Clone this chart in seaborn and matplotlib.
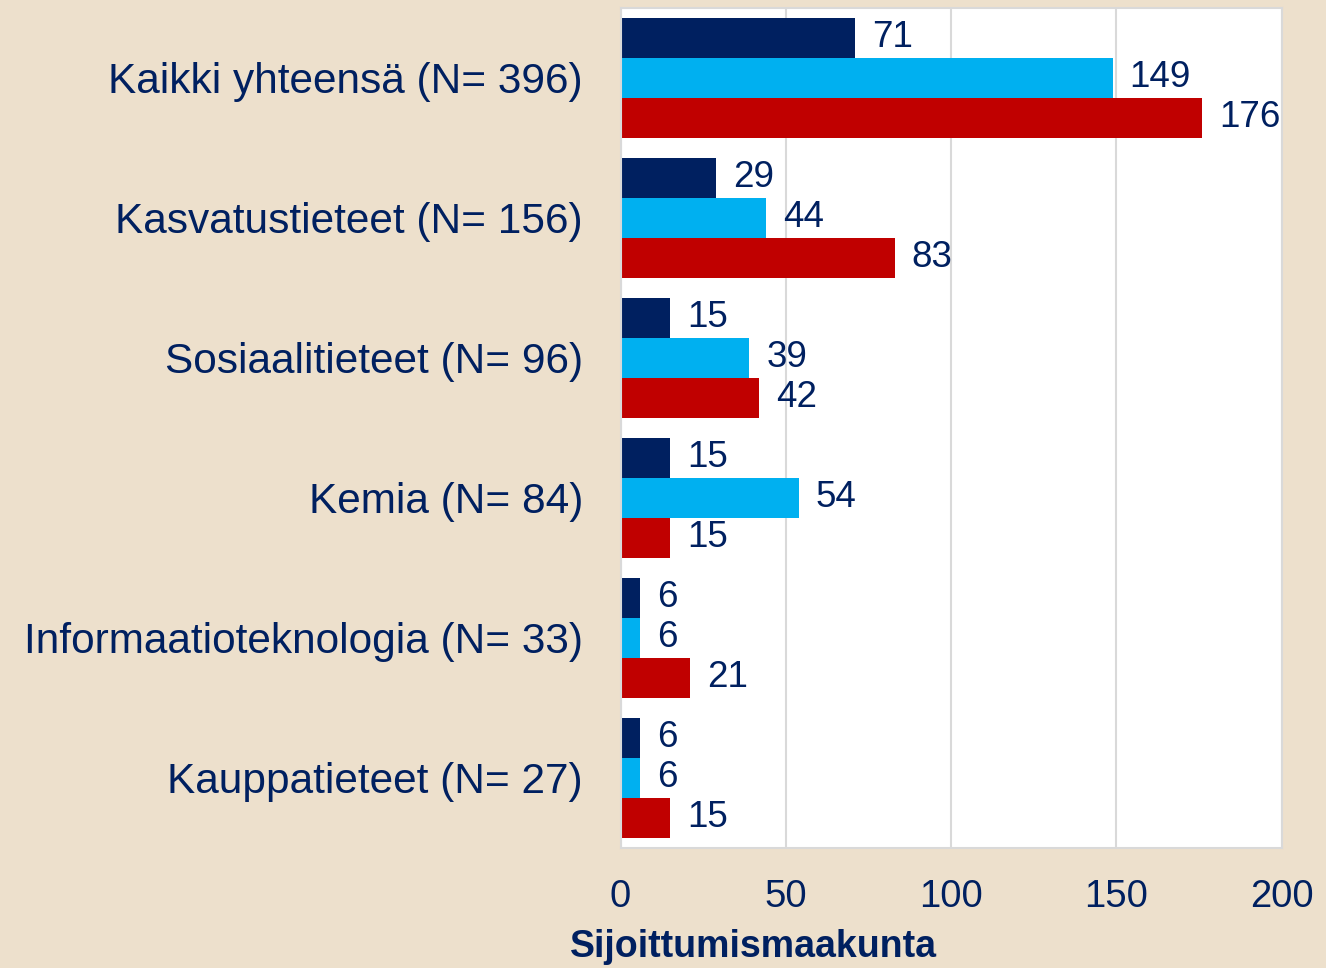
import pandas as pd
import matplotlib.pyplot as plt
import seaborn as sns

# Data
categories = ['Kaikki yhteensä (N= 396)', 'Kasvatustieteet (N= 156)', 'Sosiaalitieteet (N= 96)',
              'Kemia (N= 84)', 'Informaatioteknologia (N= 33)', 'Kauppatieteet (N= 27)']
series_names = ['Sarja 1', 'Sarja 2', 'Sarja 3']
values_1 = [71, 29, 15, 15, 6, 6]
values_2 = [149, 44, 39, 54, 6, 6]
values_3 = [176, 83, 42, 15, 21, 15]
x_ticks = [0, 50, 100, 150, 200]

colors = ['#002060', '#00B0F0', '#C00000']
text_col = '#002060'
bg = '#EDE0CC'

df = pd.DataFrame({
    'kategoria': categories * 3,
    'sarja': [s for s in series_names for _ in categories],
    'arvo': values_1 + values_2 + values_3,
})

sns.set_style('white')
plt.rcParams['font.family'] = ['Liberation Sans', 'DejaVu Sans']

fig = plt.figure(figsize=(13.26, 9.68), dpi=100, facecolor=bg)
ax = fig.add_axes([0.468, 0.124, 0.4985, 0.868])
ax.set_facecolor('white')

sns.barplot(data=df, y='kategoria', x='arvo', hue='sarja', order=categories,
            hue_order=series_names, palette=colors, width=0.857, orient='h',
            legend=False, ax=ax, saturation=1, linewidth=0)

for cont in ax.containers:
    ax.bar_label(cont, padding=12, fontsize=26.5, color=text_col)

ax.set_xlim(0, 200)
ax.set_ylim(5.5, -0.5)
ax.set_xticks(x_ticks)
ax.xaxis.grid(True, color='#D9D9D9', linewidth=1.5)
ax.set_axisbelow(True)
for sp in ax.spines.values():
    sp.set_color('#D9D9D9')
    sp.set_linewidth(1.5)

ax.tick_params(axis='x', labelsize=27.5, labelcolor=text_col, length=0, pad=22)
ax.tick_params(axis='y', labelsize=30.5, labelcolor=text_col, length=0, pad=27)
ax.set_ylabel('')
ax.set_xlabel('Sijoittumismaakunta', fontsize=27, fontweight='bold', color=text_col)
ax.xaxis.set_label_coords(0.201, -0.097)

plt.savefig('out.png', dpi=100, facecolor=bg)
